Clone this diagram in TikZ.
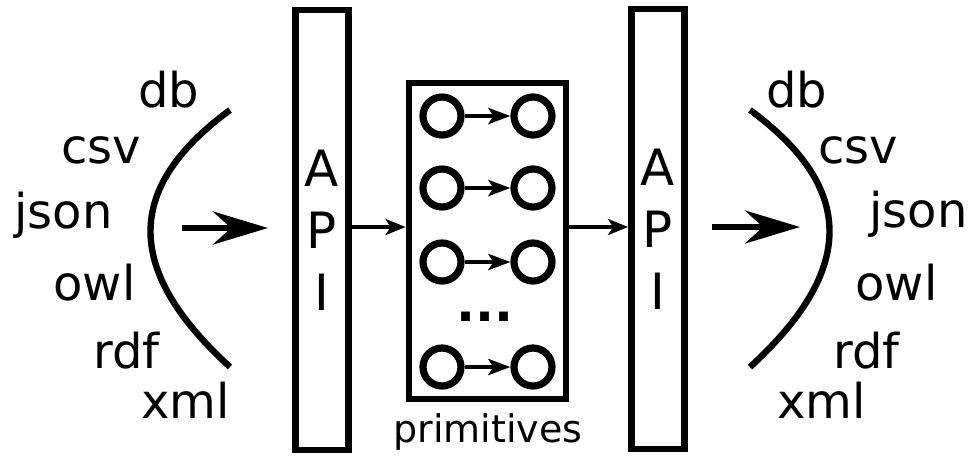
\documentclass[tikz,border=0pt]{standalone}
\usepackage{fontspec}
\setmainfont{DejaVu Sans}
\usetikzlibrary{arrows.meta}

\begin{document}
\begin{tikzpicture}[x=0.5pt, y=-0.5pt,
        fmt/.style={inner sep=0, anchor=base west, font=\fontsize{24}{29}\selectfont},
        api/.style={draw, line width=3.4pt, minimum width=26.5pt, minimum height=220pt,
            align=center, font=\fontsize{25}{31}\selectfont},
        blob/.style={circle, draw, line width=3.6pt, minimum size=19pt, inner sep=0},
        link/.style={line width=2.2pt, -{Stealth[length=11pt, width=8pt, inset=2.5pt]}},
        feed/.style={line width=1.7pt, -{Stealth[length=10pt, width=8pt, inset=2.5pt]}},
        big/.style={line width=3.2pt, -{Stealth[length=27.5pt, width=16.5pt, inset=9pt]}}]
        \useasboundingbox (0,0) rectangle (975,457);

        % formats on the left
        \node[fmt] (ldb)   at (138,107) {db};
        \node[fmt] (lcsv)  at (61,163)  {csv};
        \node[fmt] (ljson) at (14,228)  {json};
        \node[fmt] (lowl)  at (53,300)  {owl};
        \node[fmt] (lrdf)  at (93,368)  {rdf};
        \node[fmt] (lxml)  at (141,418) {xml};
        \draw[line width=3.2pt] (230,110) .. controls (124,188) and (124,270) .. (230,367);
        \coordinate (lin)  at (182,228);
        \coordinate (lout) at (268,228);
        \draw[big] (lin) -- (lout);

        % the two APIs and the primitives
        \node[api] (lapi) at (322,230) {A\\P\\I};
        \node[api] (rapi) at (658,229) {A\\P\\I};
        \node[draw, line width=3.4pt, minimum width=78.5pt, minimum height=158pt] (prim) at (487.5,241) {};
        \node[inner sep=0, anchor=base, font=\fontsize{19}{23}\selectfont] (primlabel) at (488,442) {primitives};

        \foreach \i/\y in {1/116, 2/188, 3/262, 4/367} {
            \node[blob] (a\i) at (442,\y) {};
            \node[blob] (b\i) at (533,\y) {};
            \draw[link] (a\i) -- (b\i);
        }
        \node[inner sep=0, font=\bfseries\fontsize{25}{30}\selectfont] (dots) at (485,317) {...};

        \draw[feed] ([yshift=1.5pt]lapi.east) -- ([yshift=7pt]prim.west);
        \draw[feed] ([yshift=7pt]prim.east) -- ([yshift=1pt]rapi.west);

        % formats on the right
        \coordinate (rin)  at (712,227);
        \coordinate (rout) at (800,227);
        \draw[big] (rin) -- (rout);
        \draw[line width=3.2pt] (750,110) .. controls (856,188) and (856,270) .. (750,367);
        \node[fmt] (rdb)   at (766,107) {db};
        \node[fmt] (rcsv)  at (818,163) {csv};
        \node[fmt] (rjson) at (869,227) {json};
        \node[fmt] (rowl)  at (855,300) {owl};
        \node[fmt] (rrdf)  at (833,368) {rdf};
        \node[fmt] (rxml)  at (777,418) {xml};
    \end{tikzpicture}
\end{document}
